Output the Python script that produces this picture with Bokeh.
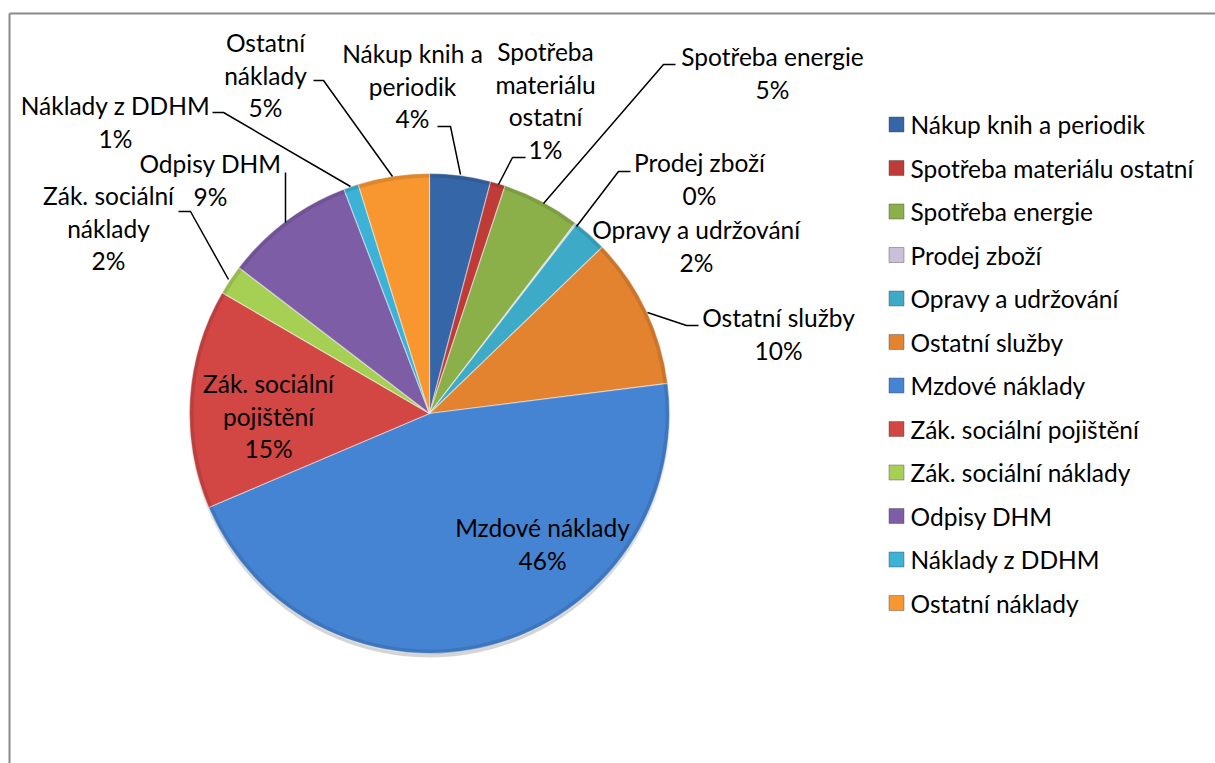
import math
from bokeh.plotting import figure
from bokeh.models import Range1d, ColumnDataSource
from bokeh.core.properties import value
from bokeh.embed import file_html
from bokeh.resources import INLINE

# ---------------- data ----------------
categories = [
    "Nákup knih a periodik",
    "Spotřeba materiálu ostatní",
    "Spotřeba energie",
    "Prodej zboží",
    "Opravy a udržování",
    "Ostatní služby",
    "Mzdové náklady",
    "Zák. sociální pojištění",
    "Zák. sociální náklady",
    "Odpisy DHM",
    "Náklady z DDHM",
    "Ostatní náklady",
]
values = [4.1, 1.0, 5.3, 0.1, 2.3, 10.2, 45.6, 14.8, 2.0, 8.8, 1.0, 4.8]
colors = ["#3566A8", "#BE3B37", "#8BB04A", "#CBC0DA", "#3DABC8", "#E3822F",
          "#4584D3", "#D24644", "#A6D054", "#7D5DA6", "#3BB2D6", "#F8962F"]

# label text broken into lines (last line is the percentage)
label_lines = [
    ["Nákup knih a", "periodik"],
    ["Spotřeba", "materiálu", "ostatní"],
    ["Spotřeba energie"],
    ["Prodej zboží"],
    ["Opravy a udržování"],
    ["Ostatní služby"],
    ["Mzdové náklady"],
    ["Zák. sociální", "pojištění"],
    ["Zák. sociální", "náklady"],
    ["Odpisy DHM"],
    ["Náklady z DDHM"],
    ["Ostatní", "náklady"],
]

# ---------------- layout (page pixel coordinates) ----------------
W, H = 1215, 763
OX, OY = 0, 0
FONT = value("Lato")
FS = "24.5px"
LINE = 32.5


def X(px):
    return px - OX


def Y(py):
    return H - (py - OY)


CX, CY, R = 429, 413, 240

# label anchor: (center x, first-line y)
label_pos = [
    (412, 53), (545, 51), (772, 56), (699, 162), (696, 229), (778, 317),
    (542, 527), (268, 383), (108, 195), (210, 163), (115, 105), (265, 42),
]
# leader lines (page coords)
leaders = [
    [(437, 126), (450, 126), (460, 174)],
    [(525, 157), (512, 157), (498, 184)],
    [(675, 64), (663, 64), (543, 203)],
    [(630, 171), (618, 171), (576, 226)],
    None,
    [(698, 325), (686, 325), (647, 312)],
    None,
    None,
    [(178, 211), (190, 211), (228, 279)],
    [(285, 172), (285, 222)],
    [(212, 112), (223, 112), (350, 186)],
    [(313, 80), (323, 80), (392, 176)],
]

p = figure(width=W, height=H, x_range=Range1d(0, W), y_range=Range1d(0, H),
           output_backend="svg", toolbar_location=None, min_border=0,
           x_axis_type=None, y_axis_type=None, outline_line_color=None)
p.grid.visible = False
p.background_fill_color = "white"
p.border_fill_color = "white"

# chart border (top + left visible)
p.line([X(9), X(1215)], [Y(13), Y(13)], line_color="#898989", line_width=2)
p.line([X(9), X(9)], [Y(13), Y(770)], line_color="#898989", line_width=2)

# soft shadow under pie
for i in range(4):
    p.circle(x=X(CX), y=Y(CY + 3 + i), radius=R + 1 - i, fill_color="#000000",
             fill_alpha=0.045, line_color=None)

total = sum(values)
starts, ends = [], []
cum = 0.0
for v in values:
    a0 = math.pi / 2 - 2 * math.pi * cum / total
    cum += v
    a1 = math.pi / 2 - 2 * math.pi * cum / total
    starts.append(a0)
    ends.append(a1)

src = ColumnDataSource(dict(start=starts, end=ends, color=colors, cat=categories))
p.wedge(x=X(CX), y=Y(CY), radius=R, start_angle="start", end_angle="end",
        direction="clock", fill_color="color", line_color="#FFFFFF",
        line_alpha=0.45, line_width=1.2, source=src)
# subtle bevel: darker outer rim
p.annular_wedge(x=X(CX), y=Y(CY), inner_radius=R - 4, outer_radius=R,
                start_angle="start", end_angle="end", direction="clock",
                fill_color="#000000", fill_alpha=0.10, line_color=None, source=src)

# leader lines
lx, ly = [], []
for ld in leaders:
    if ld:
        lx.append([X(a) for a, b in ld])
        ly.append([Y(b) for a, b in ld])
p.multi_line(lx, ly, line_color="black", line_width=1.5)

# data labels
tx, ty, tt = [], [], []
for i, v in enumerate(values):
    pct = f"{round(v / total * 100)}%"
    lines = label_lines[i] + [pct]
    x0, y0 = label_pos[i]
    for k, t in enumerate(lines):
        tx.append(X(x0))
        ty.append(Y(y0 + k * LINE))
        tt.append(t)
p.text(x=tx, y=ty, text=tt, text_align="center", text_baseline="middle",
       text_font=FONT, text_font_size=FS, text_color="black")

# legend
ly0, lstep = 124, 43.5
sq_y = [Y(ly0 + i * lstep) for i in range(len(categories))]
p.rect(x=[X(896)] * len(categories), y=sq_y, width=15, height=15,
       fill_color=colors, line_color="#404040", line_alpha=0.4)
p.text(x=[X(910)] * len(categories), y=sq_y, text=categories, text_align="left",
       text_baseline="middle", text_font=FONT, text_font_size=FS, text_color="black")

open("out.html", "w").write(file_html(p, INLINE))
